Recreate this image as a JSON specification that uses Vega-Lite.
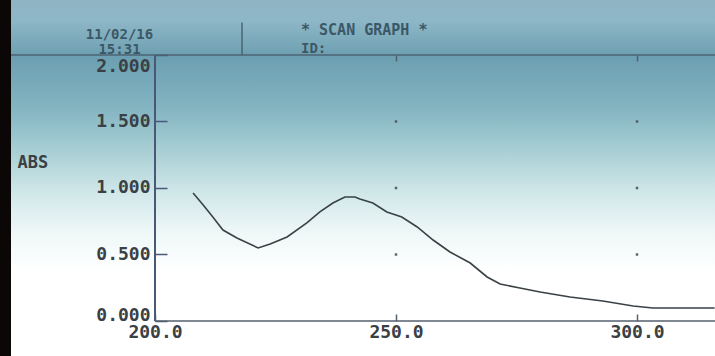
{
  "$schema": "https://vega.github.io/schema/vega-lite/v6.json",
  "width": 704,
  "height": 356,
  "autosize": {"type": "none"},
  "padding": {"left": 11, "top": 0, "right": 0, "bottom": 0},
  "background": "#0b0706",
  "title": {
    "text": "* SCAN GRAPH *",
    "subtitle": "ID:",
    "anchor": "start",
    "frame": "group",
    "orient": "top",
    "offset": -56,
    "dx": 290,
    "font": "DejaVu Sans Mono",
    "fontSize": 15,
    "fontWeight": "bold",
    "color": "#3b5866",
    "subtitleFont": "DejaVu Sans Mono",
    "subtitleFontSize": 14,
    "subtitleFontWeight": "bold",
    "subtitleColor": "#3b5866",
    "subtitlePadding": 4
  },
  "config": {
    "view": {
      "stroke": null,
      "fill": {
        "gradient": "linear",
        "x1": 0, "y1": 0, "x2": 0, "y2": 1,
        "stops": [
          {"offset": 0.0, "color": "#8fb5c4"},
          {"offset": 0.06, "color": "#8db6c6"},
          {"offset": 0.16, "color": "#6c9fb1"},
          {"offset": 0.30, "color": "#82b4c1"},
          {"offset": 0.43, "color": "#aad0d5"},
          {"offset": 0.54, "color": "#d0e7e9"},
          {"offset": 0.65, "color": "#eef7f7"},
          {"offset": 0.76, "color": "#ffffff"},
          {"offset": 1.0, "color": "#ffffff"}
        ]
      }
    }
  },
  "resolve": {"axis": {"x": "independent", "y": "independent"}},
  "datasets": {
    "scan": [
      {"wavelength": 207.9, "abs": 0.962},
      {"wavelength": 210.0, "abs": 0.872},
      {"wavelength": 212.0, "abs": 0.782},
      {"wavelength": 214.1, "abs": 0.684},
      {"wavelength": 217.0, "abs": 0.624},
      {"wavelength": 221.4, "abs": 0.549},
      {"wavelength": 223.9, "abs": 0.579},
      {"wavelength": 227.4, "abs": 0.632},
      {"wavelength": 231.5, "abs": 0.737},
      {"wavelength": 234.2, "abs": 0.820},
      {"wavelength": 236.9, "abs": 0.887},
      {"wavelength": 239.4, "abs": 0.932},
      {"wavelength": 241.5, "abs": 0.932},
      {"wavelength": 242.5, "abs": 0.917},
      {"wavelength": 245.2, "abs": 0.887},
      {"wavelength": 248.1, "abs": 0.820},
      {"wavelength": 251.2, "abs": 0.782},
      {"wavelength": 254.4, "abs": 0.707},
      {"wavelength": 257.7, "abs": 0.609},
      {"wavelength": 261.2, "abs": 0.519},
      {"wavelength": 265.4, "abs": 0.436},
      {"wavelength": 268.9, "abs": 0.331},
      {"wavelength": 271.6, "abs": 0.278},
      {"wavelength": 275.7, "abs": 0.248},
      {"wavelength": 279.9, "abs": 0.218},
      {"wavelength": 286.1, "abs": 0.180},
      {"wavelength": 292.9, "abs": 0.150},
      {"wavelength": 299.2, "abs": 0.113},
      {"wavelength": 303.3, "abs": 0.098},
      {"wavelength": 316.1, "abs": 0.098}
    ],
    "gridDots": [
      {"wavelength": 250, "abs": 0.5},
      {"wavelength": 250, "abs": 1.0},
      {"wavelength": 250, "abs": 1.5},
      {"wavelength": 300, "abs": 0.5},
      {"wavelength": 300, "abs": 1.0},
      {"wavelength": 300, "abs": 1.5}
    ]
  },
  "layer": [
    {
      "data": {"values": [{}]},
      "mark": {"type": "rule", "color": "#4d6370", "strokeWidth": 1.5},
      "encoding": {
        "y": {"datum": 2, "type": "quantitative", "scale": {"domain": [-0.26316, 2.41353], "nice": false, "zero": false}, "axis": null}
      }
    },
    {
      "data": {"values": [{}]},
      "mark": {"type": "rule", "color": "#4d6370", "strokeWidth": 1.5},
      "encoding": {
        "x": {"datum": 218.05, "type": "quantitative", "scale": {"domain": [170.124, 316.18], "nice": false, "zero": false}, "axis": null},
        "y": {"datum": 2, "type": "quantitative", "scale": {"domain": [-0.26316, 2.41353], "nice": false, "zero": false}, "axis": null},
        "y2": {"datum": 2.245}
      }
    },
    {
      "data": {"values": [{}]},
      "mark": {"type": "rule", "color": "#4a5878", "strokeWidth": 2},
      "encoding": {
        "x": {"datum": 200, "type": "quantitative", "scale": {"domain": [170.124, 316.18], "nice": false, "zero": false}, "axis": null},
        "y": {"datum": 0, "type": "quantitative", "scale": {"domain": [-0.26316, 2.41353], "nice": false, "zero": false}, "axis": null},
        "y2": {"datum": 2}
      }
    },
    {
      "data": {"values": [{}]},
      "mark": {"type": "rule", "color": "#55606e", "strokeWidth": 1.5},
      "encoding": {
        "x": {"datum": 200, "type": "quantitative", "scale": {"domain": [170.124, 316.18], "nice": false, "zero": false}, "axis": null},
        "x2": {"datum": 316.18},
        "y": {"datum": 0, "type": "quantitative", "scale": {"domain": [-0.26316, 2.41353], "nice": false, "zero": false}, "axis": null}
      }
    },
    {
      "data": {"name": "gridDots"},
      "mark": {"type": "square", "color": "#4a5258", "size": 6, "opacity": 0.9},
      "encoding": {
        "x": {
          "field": "wavelength", "type": "quantitative",
          "scale": {"domain": [170.124, 316.18], "nice": false, "zero": false},
          "axis": {
            "orient": "top", "offset": -55, "values": [250, 300],
            "labels": false, "domain": false, "grid": false,
            "ticks": true, "tickSize": -6, "tickWidth": 1.5, "tickColor": "#4d6370",
            "title": ["11/02/16", "15:31"],
            "titleX": 108, "titleY": -17,
            "titleAlign": "center", "titleBaseline": "alphabetic",
            "titleLineHeight": 15,
            "titleFont": "DejaVu Sans Mono", "titleFontSize": 14, "titleFontWeight": "bold",
            "titleColor": "#3b5866"
          }
        },
        "y": {"field": "abs", "type": "quantitative", "scale": {"domain": [-0.26316, 2.41353], "nice": false, "zero": false}, "axis": null}
      }
    },
    {
      "data": {"name": "scan"},
      "mark": {"type": "line", "color": "#3a4246", "strokeWidth": 1.6},
      "encoding": {
        "x": {
          "field": "wavelength", "type": "quantitative",
          "scale": {"domain": [170.124, 316.18], "nice": false, "zero": false},
          "axis": {
            "orient": "bottom", "offset": -35, "values": [200, 250, 300], "format": ".1f",
            "domain": false, "grid": false,
            "ticks": true, "tickSize": -7, "tickWidth": 1.5, "tickColor": "#55606e",
            "labelPadding": 9, "labelBaseline": "top", "labelFlush": false, "labelOverlap": false,
            "labelFont": "DejaVu Sans Mono", "labelFontSize": 18, "labelFontWeight": "bold", "labelColor": "#3a4044",
            "title": null
          }
        },
        "y": {
          "field": "abs", "type": "quantitative",
          "scale": {"domain": [-0.26316, 2.41353], "nice": false, "zero": false},
          "axis": {
            "orient": "left", "offset": -144, "values": [0, 0.5, 1, 1.5, 2], "format": ".3f",
            "domain": false, "grid": false,
            "ticks": true, "tickSize": -12, "tickWidth": 1.5, "tickColor": "#4a5878",
            "labelPadding": 17, "labelAlign": "right",
            "labelBaseline": {"expr": "datum.value == 0 ? 'alphabetic' : datum.value == 2 ? 'top' : 'middle'"},
            "labelOffset": {"expr": "datum.value == 2 ? 3 : 0"},
            "labelFlush": false, "labelOverlap": false,
            "labelFont": "DejaVu Sans Mono", "labelFontSize": 18, "labelFontWeight": "bold", "labelColor": "#3a4044",
            "title": "ABS", "titleAngle": 0, "titleX": -138, "titleY": 167,
            "titleAlign": "left", "titleBaseline": "alphabetic",
            "titleFont": "DejaVu Sans Mono", "titleFontSize": 17, "titleFontWeight": "bold", "titleColor": "#3a4044"
          }
        }
      }
    }
  ]
}
